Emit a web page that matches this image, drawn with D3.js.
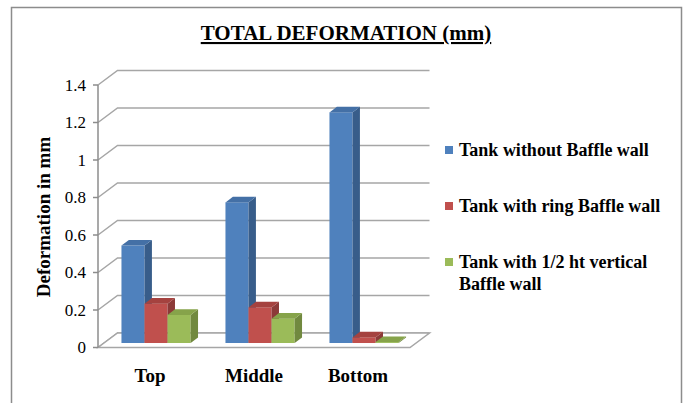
<!DOCTYPE html>
<html>
<head>
<meta charset="utf-8">
<script src="https://cdn.jsdelivr.net/npm/d3@7"></script>
<style>
  html, body { margin: 0; padding: 0; background: #fff; }
  svg { display: block; }
</style>
</head>
<body>
<svg id="chart" width="684" height="403"></svg>
<script>
// Chart data
const categories = ["Top", "Middle", "Bottom"];
const seriesNames = [
  "Tank without Baffle wall",
  "Tank with ring Baffle wall",
  "Tank with 1/2 ht vertical Baffle wall"
];
const withoutBaffle = [0.52, 0.75, 1.23];
const ringBaffle = [0.21, 0.19, 0.03];
const halfVerticalBaffle = [0.15, 0.13, 0.005];
const yTicks = [0, 0.2, 0.4, 0.6, 0.8, 1, 1.2, 1.4];
const legendLines = [
  ["Tank without Baffle wall"],
  ["Tank with ring Baffle wall"],
  ["Tank with 1/2 ht vertical", "Baffle wall"]
];

const seriesValues = [withoutBaffle, ringBaffle, halfVerticalBaffle];
const faceColors = [
  { front: "#4f81bd", side: "#385d8a", top: "#4470a6" },
  { front: "#c0504d", side: "#8c3a38", top: "#a5423f" },
  { front: "#9bbb59", side: "#71893f", top: "#86a34a" }
];

const FONT = "'Liberation Serif', 'Times New Roman', serif";
const svg = d3.select("#chart").style("font-family", FONT);

// Outer chart-area frame (open at the bottom)
svg.append("path")
  .attr("d", "M11.5,403 L11.5,7.5 L681.5,7.5 L681.5,403")
  .attr("fill", "none")
  .attr("stroke", "#8c8c8c")
  .attr("stroke-width", 1.5);

// Pseudo-3D geometry: the depth axis runs up and to the right
const DX = 19.5, DY = 14.5;
const plotLeft = 98, plotRight = 410;
const y = d3.scaleLinear().domain([0, 1.4]).range([347.5, 85]);
const x0 = d3.scaleBand().domain(categories).range([plotLeft, plotRight]);
const groupW = x0.bandwidth() * 0.665;
const x1 = d3.scaleBand().domain(d3.range(seriesNames.length)).range([0, groupW]);
const depthFront = 0.31, depthBack = 0.69;

const grid = svg.append("g").attr("fill", "none").attr("stroke", "#a6a6a6").attr("stroke-width", 1.5);

// Walls: side-wall diagonals plus back-wall gridlines
yTicks.forEach(t => {
  const yy = y(t);
  grid.append("path")
    .attr("d", `M${plotLeft},${yy} L${plotLeft + DX},${yy - DY} L${plotRight + DX},${yy - DY}`);
});

// Floor
svg.append("path")
  .attr("d", `M${plotLeft},${y(0)} L${plotRight},${y(0)} L${plotRight + DX},${y(0) - DY} L${plotLeft + DX},${y(0) - DY} Z`)
  .attr("fill", "#fff")
  .attr("stroke", "#a6a6a6")
  .attr("stroke-width", 1.5);

// Value axis line and tick marks
const axisG = svg.append("g").attr("stroke", "#8c8c8c").attr("stroke-width", 1.5);
axisG.append("line")
  .attr("x1", plotLeft).attr("x2", plotLeft)
  .attr("y1", y(1.4)).attr("y2", y(0));
yTicks.forEach(t => {
  axisG.append("line")
    .attr("x1", plotLeft - 5).attr("x2", plotLeft)
    .attr("y1", y(t)).attr("y2", y(t));
});

// Tick labels
svg.append("g").selectAll("text")
  .data(yTicks)
  .join("text")
  .attr("x", 86)
  .attr("y", d => y(d) + 5.5)
  .attr("text-anchor", "end")
  .attr("font-size", 17)
  .text(d => d3.format("~g")(d));

// Bars
const bars = svg.append("g");
categories.forEach((cat, ci) => {
  seriesValues.forEach((vals, si) => {
    const v = vals[ci];
    const bx = x0(cat) + (x0.bandwidth() - groupW) / 2 + x1(si) + depthFront * DX;
    const bw = x1.bandwidth();
    const base = y(0) - depthFront * DY;
    const top = y(v) - depthFront * DY;
    const ddx = (depthBack - depthFront) * DX;
    const ddy = (depthBack - depthFront) * DY;
    const c = faceColors[si];
    bars.append("rect")
      .attr("x", bx).attr("y", top)
      .attr("width", bw).attr("height", base - top)
      .attr("fill", c.front);
    bars.append("path")
      .attr("d", `M${bx + bw},${top} L${bx + bw + ddx},${top - ddy} L${bx + bw + ddx},${base - ddy} L${bx + bw},${base} Z`)
      .attr("fill", c.side);
    bars.append("path")
      .attr("d", `M${bx},${top} L${bx + ddx},${top - ddy} L${bx + bw + ddx},${top - ddy} L${bx + bw},${top} Z`)
      .attr("fill", c.top);
  });
});

// Category labels
svg.append("g").selectAll("text")
  .data(categories)
  .join("text")
  .attr("x", d => x0(d) + x0.bandwidth() / 2)
  .attr("y", 382)
  .attr("text-anchor", "middle")
  .attr("font-size", 19)
  .attr("font-weight", "bold")
  .text(d => d);

// Value axis title
svg.append("text")
  .attr("transform", "translate(50,217) rotate(-90)")
  .attr("text-anchor", "middle")
  .attr("font-size", 19)
  .attr("font-weight", "bold")
  .text("Deformation in mm");

// Chart title
svg.append("text")
  .attr("x", 346)
  .attr("y", 40)
  .attr("text-anchor", "middle")
  .attr("font-size", 21)
  .attr("font-weight", "bold")
  .attr("text-decoration", "underline")
  .text("TOTAL DEFORMATION (mm)");

// Legend
const legendRows = [150, 206, 262];
const legend = svg.append("g");
legendLines.forEach((lines, i) => {
  legend.append("rect")
    .attr("x", 445).attr("y", legendRows[i] - 4)
    .attr("width", 8).attr("height", 8)
    .attr("fill", faceColors[i].front);
  const t = legend.append("text")
    .attr("x", 459)
    .attr("y", legendRows[i] + 6)
    .attr("font-size", 18)
    .attr("font-weight", "bold");
  lines.forEach((ln, k) => {
    t.append("tspan").attr("x", 459).attr("dy", k === 0 ? 0 : 22).text(ln);
  });
});
</script>
</body>
</html>
